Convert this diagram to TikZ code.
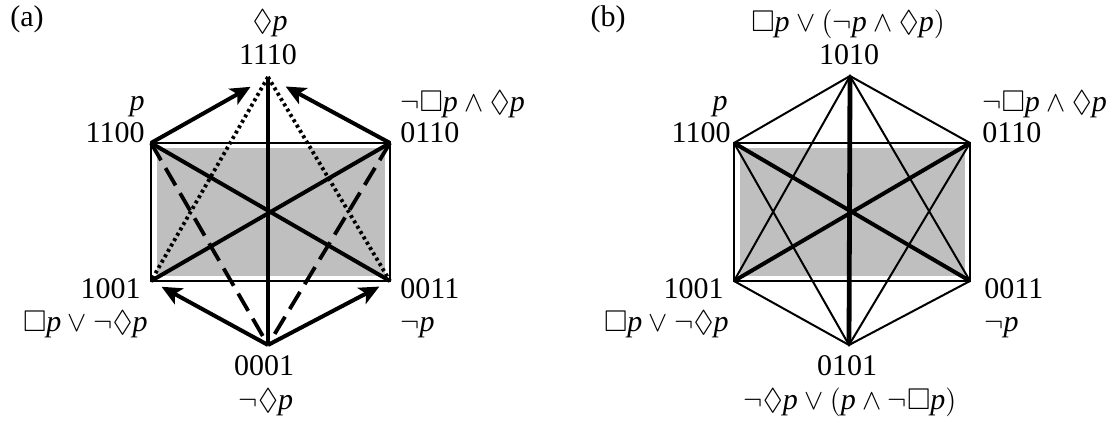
\documentclass[tikz,border=0pt]{standalone}
\usepackage{amssymb}
\usepackage{fontspec}
\setmainfont{Liberation Serif}
\usetikzlibrary{arrows.meta}

\newcommand{\pv}{\textit{p}}
\newcommand{\mposs}{\lozenge}
\newcommand{\mnec}{\square}

\begin{document}
\begin{tikzpicture}[
    x=0.5pt, y=-0.5pt,
    font=\fontsize{15}{18}\selectfont,
    lbl/.style={inner sep=0pt, text height=1.45ex, text depth=0.3ex},
    shade/.style={fill=black!25, draw=none},
    thinline/.style={line width=1pt},
    thickline/.style={line width=2pt},
    vertline/.style={line width=2.4pt},
    dotline/.style={line width=1.9pt, dash pattern=on 1.5pt off 1.6pt},
    dashline/.style={line width=1.9pt, dash pattern=on 10pt off 4.5pt},
    arrow/.style={-{Stealth[length=10pt, width=9pt, inset=2.5pt]}, line width=2pt},
]
\useasboundingbox (0,0) rectangle (1113,421);

% =================================================
% (a): vertices
% =================================================
\coordinate (a1110) at (268,77);
\coordinate (a1100) at (151,143);
\coordinate (a0110) at (390,143);
\coordinate (a1001) at (151,281);
\coordinate (a0011) at (390,281);
\coordinate (a0001) at (268,345);

\fill[shade] (157,148) rectangle (385,276);
\draw[thinline] (a1100) rectangle (a0011);

\draw[vertline]  (a1110) -- (a0001);
\draw[thickline] (a1100) -- (a0011);
\draw[thickline] (a0110) -- (a1001);
\draw[dotline]   (a1110) -- (a1001);
\draw[dotline]   (a1110) -- (a0011);
\draw[dashline]  (a1100) -- (a0001);
\draw[dashline]  (a0110) -- (a0001);

\draw[arrow, shorten >=10pt] (a1100) -- (a1110);
\draw[arrow, shorten >=10pt] (a0110) -- (a1110);
\draw[arrow, shorten >=6pt]  (a0001) -- (a1001);
\draw[arrow, shorten >=6pt]  (a0001) -- (a0011);

% =================================================
% (a): labels
% =================================================
\node[lbl] (atag) at (27,21) {(a)};
\node[lbl] (a1110f) at (270,25) {$\mposs\pv$};
\node[lbl] (a1110n) at (268,59) {1110};
\node[lbl, anchor=east] (a1100f) at (145,105) {\pv};
\node[lbl, anchor=east] (a1100n) at (145,137) {1100};
\node[lbl, anchor=west] (a0110f) at (400,106) {$\neg\mnec\pv\wedge\mposs\pv$};
\node[lbl, anchor=west] (a0110n) at (400,137) {0110};
\node[lbl, anchor=east] (a1001n) at (141,293) {1001};
\node[lbl, anchor=east] (a1001f) at (148,326) {$\mnec\pv\vee\neg\mposs\pv$};
\node[lbl, anchor=west] (a0011n) at (400,293) {0011};
\node[lbl, anchor=west] (a0011f) at (400,326) {$\neg\pv$};
\node[lbl] (a0001n) at (264,370) {0001};
\node[lbl] (a0001f) at (266,404) {$\neg\mposs\pv$};

% =================================================
% (b): vertices
% =================================================
\coordinate (b1010) at (850,76);
\coordinate (b1100) at (734,143);
\coordinate (b0110) at (970,143);
\coordinate (b1001) at (734,281);
\coordinate (b0011) at (970,281);
\coordinate (b0101) at (849,345);

\fill[shade] (740,148) rectangle (965,276);
\draw[thinline] (b1100) rectangle (b0011);

\draw[thinline] (b1100) -- (b1010) -- (b0110);
\draw[thinline] (b1001) -- (b0101) -- (b0011);
\draw[thinline] (b1001) -- (b1010) -- (b0011);
\draw[thinline] (b1100) -- (b0101) -- (b0110);

\draw[vertline]  (b1010) -- (b0101);
\draw[thickline] (b1100) -- (b0011);
\draw[thickline] (b0110) -- (b1001);

% =================================================
% (b): labels
% =================================================
\node[lbl] (btag) at (608,21) {(b)};
\node[lbl] (b1010f) at (848,26) {$\mnec\pv\vee(\neg\pv\wedge\mposs\pv)$};
\node[lbl] (b1010n) at (849,59) {1010};
\node[lbl, anchor=east] (b1100f) at (728,105) {\pv};
\node[lbl, anchor=east] (b1100n) at (731,137) {1100};
\node[lbl, anchor=west] (b0110f) at (982,106) {$\neg\mnec\pv\wedge\mposs\pv$};
\node[lbl, anchor=west] (b0110n) at (982,137) {0110};
\node[lbl, anchor=east] (b1001n) at (724,293) {1001};
\node[lbl, anchor=east] (b1001f) at (729,326) {$\mnec\pv\vee\neg\mposs\pv$};
\node[lbl, anchor=west] (b0011n) at (984,293) {0011};
\node[lbl, anchor=west] (b0011f) at (984,326) {$\neg\pv$};
\node[lbl] (b0101n) at (847,370) {0101};
\node[lbl] (b0101f) at (850,404) {$\neg\mposs\pv\vee(\pv\wedge\neg\mnec\pv)$};

\end{tikzpicture}
\end{document}
